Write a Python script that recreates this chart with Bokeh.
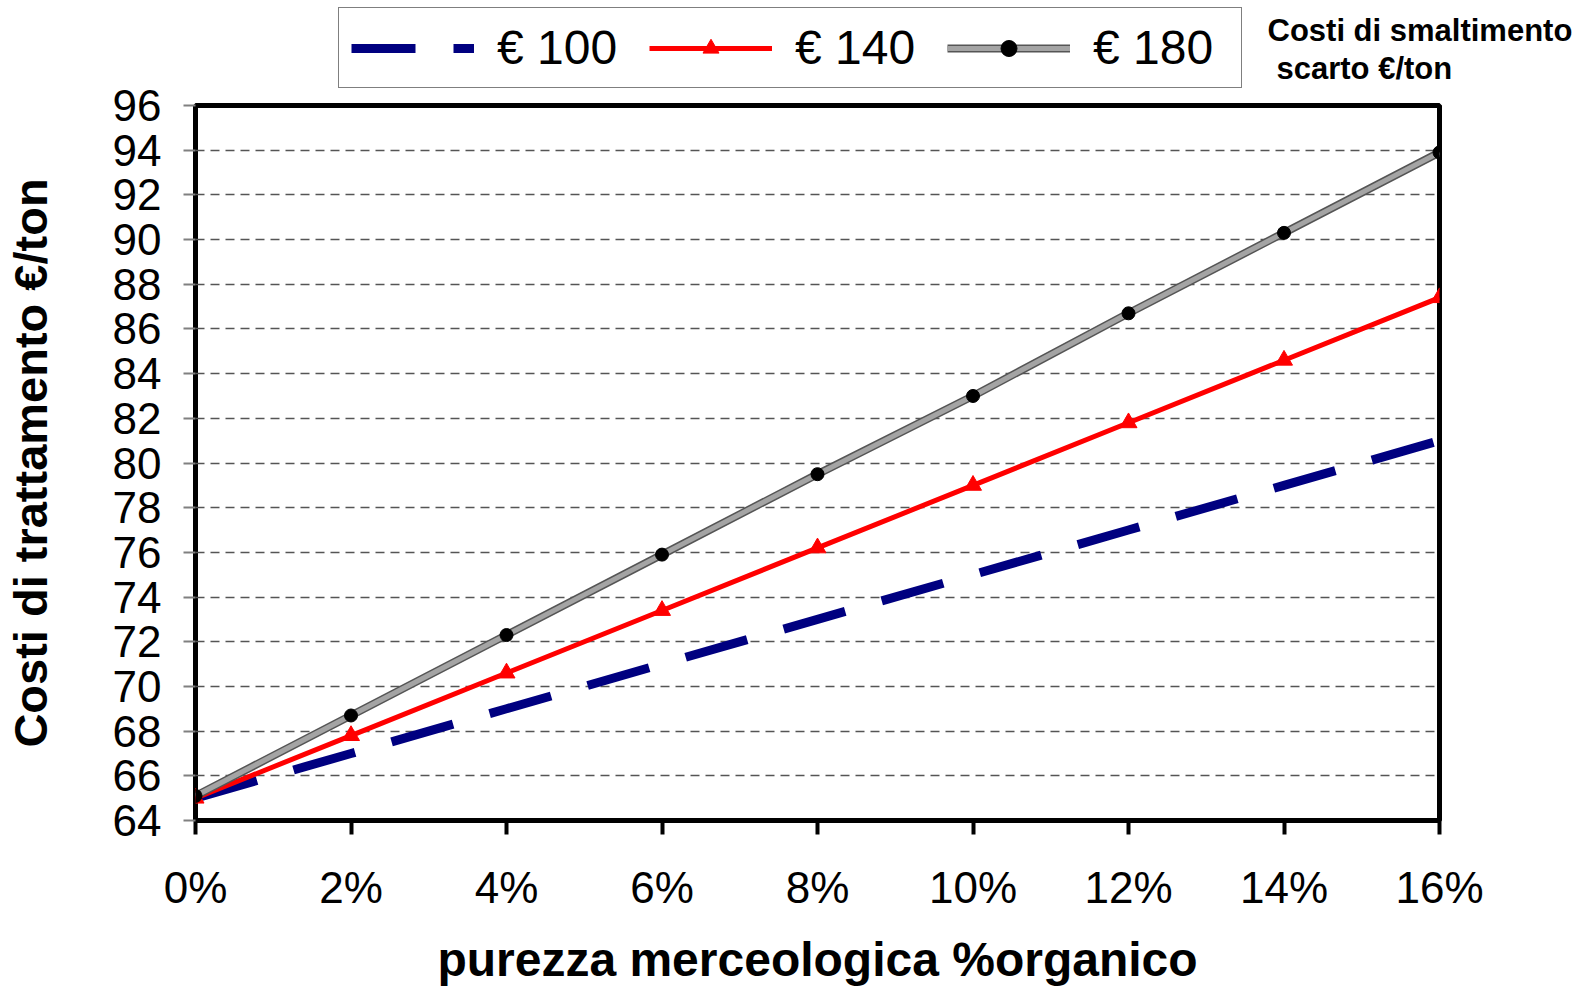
from bokeh.plotting import figure
from bokeh.models import (Range1d, FixedTicker, Legend, LegendItem, Label)
from bokeh.embed import file_html
from bokeh.resources import INLINE

# ---- data ----
x_pct = [0, 2, 4, 6, 8, 10, 12, 14, 16]
x_tick_labels = ["0%", "2%", "4%", "6%", "8%", "10%", "12%", "14%", "16%"]
y_ticks = [64, 66, 68, 70, 72, 74, 76, 78, 80, 82, 84, 86, 88, 90, 92, 94, 96]
s100 = [65.0, 67.0, 69.0, 71.0, 73.0, 75.0, 77.0, 79.0, 81.0]
s140 = [65.0, 67.8, 70.6, 73.4, 76.2, 79.0, 81.8, 84.6, 87.4]
s180 = [65.1, 68.7, 72.3, 75.9, 79.5, 83.0, 86.7, 90.3, 93.9]
series_names = ["€ 100", "€ 140", "€ 180"]
legend_title = ["Costi di smaltimento", "scarto €/ton"]
x_title = "purezza merceologica %organico"
y_title = "Costi di trattamento €/ton"

FONT = "Liberation Sans"
W = 1587
H = 988
HEAD_H = 100


def add_series(fig):
    r100 = fig.line(x_pct, s100, line_color="#000080", line_width=9,
                    line_dash="64 38", line_cap="butt")
    r140 = fig.line(x_pct, s140, line_color="#ff0000", line_width=5)
    r140m = fig.scatter(x_pct, s140, marker="triangle", size=17,
                        fill_color="#ff0000", line_color="#ff0000")
    r180a = fig.line(x_pct, s180, line_color="#555555", line_width=8)
    r180b = fig.line(x_pct, s180, line_color="#a4a4a4", line_width=5)
    r180m = fig.scatter(x_pct, s180, marker="circle", size=13,
                        fill_color="black", line_color="black")
    return [[r100], [r140, r140m], [r180a, r180b, r180m]]


# ---- main plot ----
p = figure(width=W, height=H, output_backend="svg", toolbar_location=None,
           x_range=Range1d(0, 16), y_range=Range1d(64, 96),
           min_border_left=195, min_border_right=148, min_border_top=105,
           min_border_bottom=167)
p.outline_line_color = "black"
p.outline_line_width = 5

p.xaxis.ticker = FixedTicker(ticks=x_pct)
p.xaxis.major_label_overrides = {v: s for v, s in zip(x_pct, x_tick_labels)}
p.yaxis.ticker = FixedTicker(ticks=y_ticks)
for ax in (p.xaxis[0], p.yaxis[0]):
    ax.axis_line_color = None
    ax.minor_tick_line_color = None
    ax.major_label_text_font = FONT
    ax.major_label_text_font_size = "44px"
    ax.major_label_text_color = "black"
    ax.major_tick_in = 0
    ax.axis_label_text_font = FONT
    ax.axis_label_text_font_style = "bold"
    ax.axis_label_text_color = "black"
p.xaxis.major_tick_out = 14
p.xaxis.major_tick_line_width = 4
p.xaxis.major_tick_line_color = "black"
p.xaxis.major_label_standoff = 28
p.xaxis.axis_label = x_title
p.xaxis.axis_label_text_font_size = "48px"
p.xaxis.axis_label_standoff = 18

p.yaxis.major_tick_out = 12
p.yaxis.major_tick_line_width = 2
p.yaxis.major_tick_line_color = "#808080"
p.yaxis.major_label_standoff = 22
p.yaxis.axis_label = y_title
p.yaxis.axis_label_text_font_size = "47px"
p.yaxis.axis_label_standoff = 53

p.xgrid.grid_line_color = None
p.ygrid.ticker = FixedTicker(ticks=y_ticks)
p.ygrid.grid_line_color = "#555555"
p.ygrid.grid_line_width = 1.3
p.ygrid.grid_line_dash = "9 6"

add_series(p)

# ---- header overlay (legend + legend caption), drawn over the top margin ----
head = figure(width=W, height=HEAD_H, output_backend="svg", toolbar_location=None,
              x_range=Range1d(1000, 1000 + W), y_range=Range1d(1000, 1000 + HEAD_H),
              x_axis_location=None, y_axis_location=None, min_border=0,
              styles={"position": "absolute", "left": "0px", "top": "0px"})
head.grid.visible = False
head.outline_line_color = None
head.background_fill_alpha = 0
head.border_fill_alpha = 0
head_groups = add_series(head)

legend = Legend(items=[LegendItem(label=n, renderers=g)
                       for n, g in zip(series_names, head_groups)],
                orientation="horizontal", location=(338, 12))
legend.glyph_width = 123
legend.glyph_height = 40
legend.label_standoff = 23
legend.label_width = 136
legend.spacing = 16
legend.padding = 12
legend.margin = 0
legend.label_text_font = FONT
legend.label_text_font_size = "48px"
legend.label_text_color = "black"
legend.border_line_color = "black"
legend.border_line_width = 1.5
legend.background_fill_alpha = 1
head.add_layout(legend)

head.add_layout(Label(x=2267, y=1070, text=legend_title[0], text_font=FONT,
                      text_font_style="bold", text_font_size="31px",
                      text_color="black",
                      text_baseline="middle", text_align="left"))
head.add_layout(Label(x=2276, y=1032, text=legend_title[1], text_font=FONT,
                      text_font_style="bold", text_font_size="31px",
                      text_color="black",
                      text_baseline="middle", text_align="left"))

open("out.html", "w").write(file_html([p, head], INLINE))
